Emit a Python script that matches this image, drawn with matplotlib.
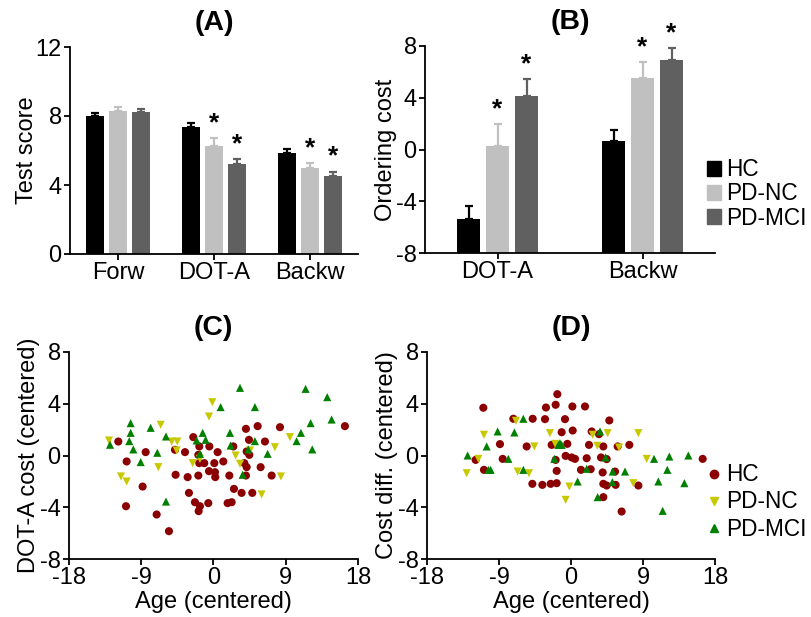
import numpy as np
import matplotlib
matplotlib.use('Agg')
import matplotlib.pyplot as plt
from matplotlib.lines import Line2D
from matplotlib.patches import Patch

plt.rcParams['font.family'] = ['Liberation Sans', 'DejaVu Sans']
plt.rcParams['font.size'] = 17
plt.rcParams['axes.unicode_minus'] = False

# ---- data: panel A (test scores) ----
tests_A = ['Forw', 'DOT-A', 'Backw']
hc_A = [8.02, 7.39, 5.88]
hc_A_err = [0.13, 0.23, 0.18]
nc_A = [8.31, 6.27, 4.97]
nc_A_err = [0.23, 0.43, 0.29]
mci_A = [8.21, 5.23, 4.53]
mci_A_err = [0.21, 0.30, 0.25]
nc_A_sig = [False, True, True]
mci_A_sig = [False, True, True]

# ---- data: panel B (ordering cost) ----
tests_B = ['DOT-A', 'Backw']
hc_B = [-5.35, 0.69]
hc_B_err = [1.00, 0.78]
nc_B = [0.28, 5.56]
nc_B_err = [1.67, 1.23]
mci_B = [4.14, 6.92]
mci_B_err = [1.31, 0.95]
nc_B_sig = [True, True]
mci_B_sig = [True, True]

# ---- data: panel C (DOT-A cost vs age) ----
hc_C_x = [-11.86, -10.82, -8.45, -8.83, -10.90, -7.08, -5.55, -4.72, -4.80, -3.55,
          -3.22, -3.06, -2.52, -2.31, -1.89, -1.77, -1.89, -1.69, -1.85, -1.77,
          -1.15, -0.65, -0.52, -0.56, 0.10, 0.18, 0.22, 0.51, 1.22, 1.97,
          1.76, 2.26, 2.47, 2.55, 3.50, 4.04, 4.42, 4.13, 4.46, 3.84,
          4.13, 4.04, 4.83, 5.50, 5.87, 6.41, 7.24, 8.28, 16.37]
hc_C_y = [1.08, -0.46, 0.26, -2.40, -3.92, -4.56, -5.85, -1.49, 0.44, 0.26,
          -1.67, -2.89, 1.42, -3.61, -1.55, 0.70, 0.05, -3.92, -4.30, -0.59,
          -0.59, -3.68, 0.70, -1.21, -0.59, -1.29, -1.67, 0.26, -0.46, -1.55,
          -3.68, -3.61, 0.70, -2.58, -2.89, 2.06, 1.21, 0.31, 0.05, -0.59,
          -0.90, -1.55, -2.89, 2.27, -0.90, 1.08, -1.55, 2.19, 2.27]
nc_C_x = [-13.02, -11.52, -10.82, -6.58, -6.87, -5.21, -4.51, -4.59, -2.60, -1.69,
          -0.56, -0.15, 2.76, 3.30, 4.54, 5.99, 7.65, 8.40, 9.52]
nc_C_y = [1.16, -1.62, -2.01, 2.37, -0.90, 1.08, 1.08, 0.39, -0.59, -0.26,
          3.01, 4.12, 0.00, -0.64, 0.39, -3.01, 0.64, -1.62, 1.42]
mci_C_x = [-12.89, -10.32, -10.32, -10.49, -9.99, -9.07, -7.83, -7.00, -5.92, -5.92,
           -2.10, -1.35, -1.69, -0.98, 0.89, 2.05, 2.13, 3.30, 5.16, 5.16,
           4.33, 3.63, 6.74, 10.35, 10.89, 11.47, 12.10, 12.30, 14.17, 14.71]
mci_C_y = [0.83, 2.50, 1.75, 1.11, 0.47, -0.51, 2.14, 0.21, 1.47, -3.56,
           1.16, 1.75, 0.13, 1.21, 3.74, 1.75, 0.77, 5.23, 3.74, 1.11,
           0.47, -1.49, 0.13, 1.11, 1.75, 5.15, 2.50, 0.47, 4.51, 2.78]

# ---- data: panel D (cost difference vs age) ----
hc_D_x = [-10.96, -11.92, -10.88, -8.88, -8.54, -7.21, -5.54, -4.79, -4.83, -3.58,
          -3.25, -3.13, -2.54, -2.42, -1.92, -1.71, -1.92, -1.79, -1.79, -1.17,
          -0.75, -0.67, -0.46, 0.17, 0.21, 0.08, 0.50, 1.25, 1.75, 1.96,
          2.25, 2.46, 2.58, 3.50, 3.75, 4.04, 3.96, 4.04, 4.46, 4.04,
          4.46, 4.79, 5.50, 5.58, 5.83, 6.33, 7.29, 8.42, 16.46]
hc_D_y = [3.69, -0.34, -1.11, 0.88, -0.26, 2.84, 0.70, 2.84, -2.19, -2.27,
          2.81, 3.71, -2.19, 0.82, 3.92, 4.74, -0.34, -1.19, -2.14, 1.80,
          2.81, -0.03, 0.90, 3.79, 1.93, -0.15, -0.26, -1.11, 3.79, -0.21,
          0.82, -1.06, 1.86, 1.65, -0.15, 0.70, -1.31, -2.19, -2.32, -3.22,
          -0.28, 2.71, -1.24, -2.27, 0.70, -4.33, 0.82, -2.32, -0.26]
nc_D_x = [-13.04, -11.58, -10.88, -6.88, -6.67, -5.25, -4.58, -2.63, -1.98, -0.21,
          -0.67, 2.71, 3.29, 4.58, 6.00, 8.42, 7.79, 9.46]
nc_D_y = [-1.37, -0.26, 1.60, 2.68, -1.24, -1.37, 0.70, 1.73, 0.90, -2.40,
          -3.43, 1.60, 0.75, 1.73, 0.62, 1.73, -2.14, -0.26]
mci_D_x = [-12.92, -10.54, -10.33, -10.04, -9.17, -7.83, -7.08, -5.96, -5.96, -2.08,
           -1.58, -1.17, -1.38, 0.83, 1.96, 3.33, 3.63, 4.33, 5.21, 5.17,
           6.75, 10.38, 10.92, 12.04, 12.29, 11.46, 14.17, 14.67]
mci_D_y = [0.00, 0.70, -1.11, -1.11, 1.86, -0.26, 1.78, 2.84, -1.11, -0.26,
           0.82, 0.82, 0.95, -2.01, -1.03, -3.22, 1.86, -0.15, -1.24, -2.06,
           -1.24, -0.26, -2.01, -1.11, -0.08, -4.28, -2.14, 0.00]

groups = ['HC', 'PD-NC', 'PD-MCI']
bar_colors = ['#000000', '#c0c0c0', '#606060']
dot_colors = ['#8b0000', '#c8c800', '#008000']
dot_markers = ['o', 'v', '^']

W, H = 812, 617
fig = plt.figure(figsize=(W / 100, H / 100), dpi=100)
axA = fig.add_axes([70 / W, 1 - 254 / H, 288 / W, 207 / H])
axB = fig.add_axes([425 / W, 1 - 253 / H, 290 / W, 207 / H])
axC = fig.add_axes([69 / W, 1 - 559 / H, 289 / W, 207 / H])
axD = fig.add_axes([427 / W, 1 - 559 / H, 288 / W, 207 / H])


def style(ax):
    for s in ['top', 'right']:
        ax.spines[s].set_visible(False)
    for s in ['left', 'bottom']:
        ax.spines[s].set_linewidth(1.3)
    ax.tick_params(direction='out', length=4, width=1.3, pad=2)


def bars(ax, vals, errs, sigs, step, width, base=0.0):
    x = np.arange(len(vals[0]))
    for j in range(3):
        xs = x + (j - 1) * step
        h = np.array(vals[j]) - base
        ax.errorbar(xs, vals[j], yerr=[np.zeros(len(xs)), errs[j]], fmt='none',
                    ecolor=bar_colors[j], elinewidth=1.6, capsize=3, capthick=1.6, zorder=1)
        ax.bar(xs, h, width, bottom=base, color=bar_colors[j], zorder=2)
        if sigs[j] is not None:
            for k in range(len(xs)):
                if sigs[j][k]:
                    ax.annotate('*', (xs[k], vals[j][k] + errs[j][k]), xytext=(0, 2),
                                textcoords='offset points', ha='center', va='bottom',
                                fontsize=19, fontweight='bold')
    ax.set_xticks(x)


# (A)
style(axA)
bars(axA, [hc_A, nc_A, mci_A], [hc_A_err, nc_A_err, mci_A_err],
     [None, nc_A_sig, mci_A_sig], 0.236, 0.19)
axA.set_xticklabels(tests_A)
axA.set_xlim(-0.5, 2.5)
axA.set_ylim(0, 12)
axA.set_yticks([0, 4, 8, 12])
axA.set_ylabel('Test score', labelpad=-2)
axA.set_title('(A)', fontweight='bold', pad=12)

# (B)
style(axB)
bars(axB, [hc_B, nc_B, mci_B], [hc_B_err, nc_B_err, mci_B_err],
     [None, nc_B_sig, mci_B_sig], 0.2, 0.16, base=-8)
axB.set_xticklabels(tests_B)
axB.set_xlim(-0.5, 1.5)
axB.set_ylim(-8, 8)
axB.set_yticks([-8, -4, 0, 4, 8])
axB.set_ylabel('Ordering cost', labelpad=-1)
axB.set_title('(B)', fontweight='bold', pad=12)

bar_handles = [Patch(color=c) for c in bar_colors]
fig.legend(bar_handles, groups, loc='center left', bbox_to_anchor=(707 / W, 1 - 194 / H),
           frameon=False, handlelength=0.6, handleheight=0.6, handletextpad=0.25,
           labelspacing=0.05, borderpad=0, borderaxespad=0, fontsize=16.3)

# (C) and (D)
scatter_sets = [
    (axC, [(hc_C_x, hc_C_y), (nc_C_x, nc_C_y), (mci_C_x, mci_C_y)],
     'DOT-A cost (centered)', '(C)'),
    (axD, [(hc_D_x, hc_D_y), (nc_D_x, nc_D_y), (mci_D_x, mci_D_y)],
     'Cost diff. (centered)', '(D)'),
]
for ax, sets, ylab, title in scatter_sets:
    style(ax)
    for j, (xs, ys) in enumerate(sets):
        ax.scatter(xs, ys, s=34, marker=dot_markers[j], color=dot_colors[j],
                   edgecolors='none', zorder=2, clip_on=False)
    ax.set_xlim(-18, 18)
    ax.set_ylim(-8, 8)
    ax.set_xticks([-18, -9, 0, 9, 18])
    ax.set_yticks([-8, -4, 0, 4, 8])
    ax.set_xlabel('Age (centered)', labelpad=1)
    ax.set_ylabel(ylab, labelpad=0)
    ax.set_title(title, fontweight='bold', pad=12)

dot_handles = [Line2D([], [], linestyle='none', marker=dot_markers[j], color=dot_colors[j],
                      markersize=6) for j in range(3)]
fig.legend(dot_handles, groups, loc='center left', bbox_to_anchor=(707 / W, 1 - 502 / H),
           frameon=False, handlelength=0.6, handletextpad=0.25, labelspacing=0.18,
           borderpad=0, borderaxespad=0, fontsize=16.3)

fig.savefig('out.png', dpi=100)
